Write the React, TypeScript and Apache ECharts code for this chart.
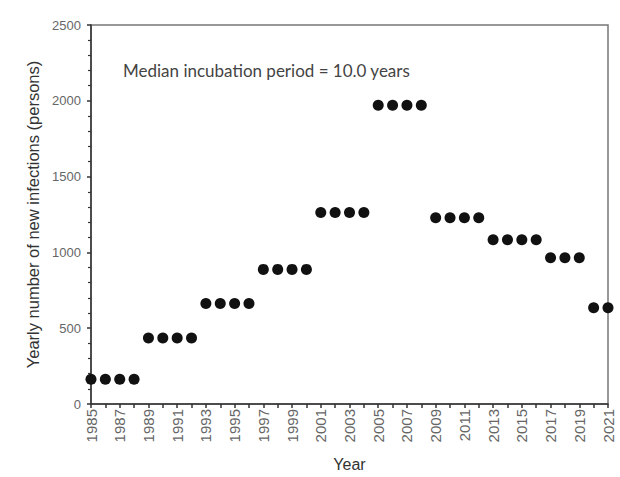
import React, { useEffect, useRef } from "react";
import * as echarts from "echarts";

const years: number[] = [
  1985, 1986, 1987, 1988, 1989, 1990, 1991, 1992, 1993, 1994, 1995, 1996,
  1997, 1998, 1999, 2000, 2001, 2002, 2003, 2004, 2005, 2006, 2007, 2008,
  2009, 2010, 2011, 2012, 2013, 2014, 2015, 2016, 2017, 2018, 2019, 2020, 2021,
];
const infections: number[] = [
  163, 163, 163, 163, 435, 435, 435, 435, 663, 663, 663, 663,
  888, 888, 888, 888, 1263, 1263, 1263, 1263, 1970, 1970, 1970, 1970,
  1228, 1228, 1228, 1228, 1084, 1084, 1084, 1084, 965, 965, 965, 635, 635,
];
const annotation = "Median incubation period = 10.0 years";
const xName = "Year";
const yName = "Yearly number of new infections (persons)";

export default function App() {
  const ref = useRef<HTMLDivElement>(null);
  useEffect(() => {
    if (!ref.current) return;
    const chart = echarts.init(ref.current, undefined, { renderer: "svg" });
    const axisFont = "Liberation Sans";
    chart.setOption({
      animation: false,
      backgroundColor: "#ffffff",
      textStyle: { fontFamily: axisFont },
      grid: { left: 91, right: 12, top: 25, bottom: 72, show: true, borderColor: "#777", borderWidth: 1.5, backgroundColor: "transparent" },
      xAxis: {
        type: "value",
        min: 1985,
        max: 2021,
        interval: 1,
        name: xName,
        nameLocation: "middle",
        nameGap: 52,
        nameTextStyle: { fontFamily: axisFont, fontSize: 16, color: "#333" },
        axisLine: { show: true, lineStyle: { color: "#333", width: 1.5 } },
        axisTick: { show: true, inside: false, length: 4, lineStyle: { color: "#333", width: 1.5 } },
        axisLabel: {
          rotate: 90,
          fontFamily: axisFont,
          fontSize: 15,
          color: "#666",
          margin: 5,
          formatter: (v: number) => ((v - 1985) % 2 === 0 ? String(v) : ""),
        },
        splitLine: { show: false },
      },
      yAxis: {
        type: "value",
        min: 0,
        max: 2500,
        interval: 500,
        name: yName,
        nameLocation: "middle",
        nameGap: 50,
        nameTextStyle: { fontFamily: axisFont, fontSize: 16.5, color: "#333" },
        axisLine: { show: true, lineStyle: { color: "#333", width: 1.5 } },
        axisTick: { show: true, inside: false, length: 4, lineStyle: { color: "#333", width: 1.5 } },
        minorTick: { show: true, splitNumber: 5, length: 3, lineStyle: { color: "#333", width: 1.2 } },
        axisLabel: {
          fontFamily: axisFont,
          fontSize: 13,
          color: "#666",
          margin: 10,
          formatter: (v: number) => String(v),
        },
        splitLine: { show: false },
      },
      series: [
        {
          type: "scatter",
          data: years.map((y, i) => [y, infections[i]]),
          symbol: "circle",
          symbolSize: 11,
          itemStyle: { color: "#111", opacity: 1 },
          clip: false,
        },
      ],
      graphic: [
        {
          type: "text",
          x: 123,
          y: 70,
          style: {
            text: annotation,
            fontFamily: "Lato",
            fontSize: 17,
            fill: "#444",
            verticalAlign: "middle",
          },
        },
      ],
    });
    return () => chart.dispose();
  }, []);
  return (
    <div
      ref={ref}
      style={{ position: "absolute", left: 0, top: 0, width: 620, height: 477 }}
    />
  );
}
